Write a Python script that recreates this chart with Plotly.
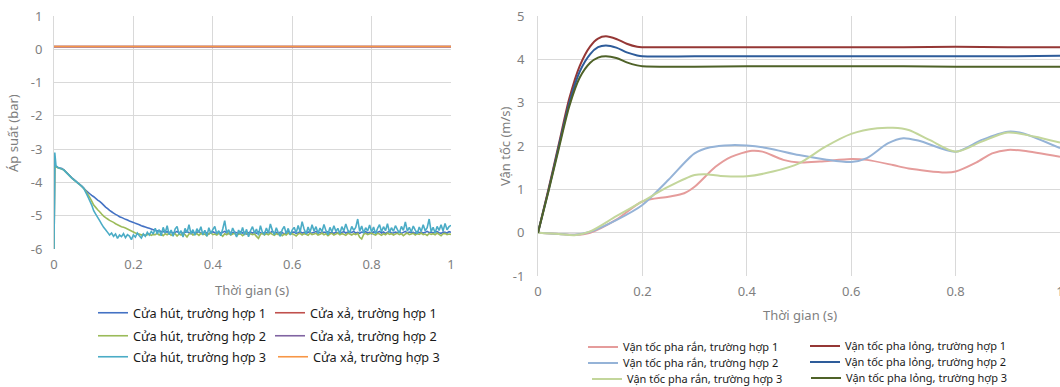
import plotly.graph_objects as go

# ---------------- Left chart data (pressure) ----------------
t_step = 0.005
t_hut = [0.0, 0.002] + [round(t_step * k, 3) for k in range(1, 201)]

hut_1 = [-6.0, -3.50,
    -3.52,-3.55,-3.57,-3.58,-3.62,-3.68,-3.74,-3.80,-3.86,-3.91,
    -3.96,-4.01,-4.06,-4.11,-4.17,-4.24,-4.29,-4.34,-4.39,-4.43,
    -4.48,-4.53,-4.57,-4.62,-4.68,-4.74,-4.79,-4.84,-4.88,-4.92,
    -4.96,-4.99,-5.03,-5.05,-5.08,-5.11,-5.13,-5.16,-5.18,-5.20,
    -5.23,-5.25,-5.27,-5.30,-5.32,-5.34,-5.36,-5.38,-5.40,-5.42,
    -5.44,-5.46,-5.45,-5.48,-5.47,-5.50,-5.48,-5.51,-5.49,-5.52,
    -5.50,-5.47,-5.52,-5.49,-5.53,-5.50,-5.48,-5.51,-5.54,-5.49,
    -5.52,-5.50,-5.47,-5.53,-5.51,-5.49,-5.52,-5.55,-5.50,-5.48,
    -5.51,-5.53,-5.49,-5.52,-5.50,-5.47,-5.51,-5.54,-5.50,-5.52,
    -5.49,-5.51,-5.53,-5.48,-5.52,-5.50,-5.55,-5.51,-5.49,-5.52,
    -5.50,-5.53,-5.48,-5.51,-5.54,-5.50,-5.52,-5.49,-5.51,-5.47,
    -5.52,-5.50,-5.53,-5.49,-5.51,-5.55,-5.50,-5.48,-5.52,-5.50,
    -5.49,-5.53,-5.51,-5.48,-5.52,-5.50,-5.54,-5.49,-5.51,-5.52,
    -5.50,-5.47,-5.52,-5.50,-5.53,-5.49,-5.51,-5.48,-5.52,-5.50,
    -5.53,-5.49,-5.51,-5.54,-5.50,-5.48,-5.52,-5.49,-5.51,-5.50,
    -5.47,-5.52,-5.50,-5.53,-5.49,-5.51,-5.48,-5.52,-5.50,-5.54,
    -5.49,-5.51,-5.50,-5.47,-5.52,-5.49,-5.53,-5.50,-5.48,-5.51,
    -5.52,-5.49,-5.51,-5.48,-5.53,-5.50,-5.47,-5.52,-5.49,-5.51,
    -5.50,-5.53,-5.48,-5.51,-5.49,-5.52,-5.50,-5.47,-5.51,-5.49,
    -5.52,-5.50,-5.48,-5.51,-5.53,-5.49,-5.50,-5.52,-5.48,-5.50]

hut_2 = [-6.0, -3.50,
    -3.53,-3.56,-3.58,-3.60,-3.63,-3.69,-3.75,-3.81,-3.87,-3.92,
    -3.97,-4.02,-4.07,-4.12,-4.18,-4.26,-4.35,-4.45,-4.56,-4.68,
    -4.75,-4.82,-4.88,-4.95,-5.01,-5.06,-5.10,-5.14,-5.17,-5.20,
    -5.24,-5.27,-5.30,-5.33,-5.35,-5.37,-5.40,-5.43,-5.46,-5.49,
    -5.52,-5.54,-5.55,-5.58,-5.56,-5.60,-5.57,-5.55,-5.59,-5.56,
    -5.57,-5.53,-5.58,-5.55,-5.60,-5.54,-5.57,-5.52,-5.59,-5.56,
    -5.54,-5.61,-5.55,-5.58,-5.53,-5.57,-5.64,-5.55,-5.52,-5.58,
    -5.56,-5.54,-5.59,-5.53,-5.57,-5.55,-5.60,-5.54,-5.51,-5.57,
    -5.55,-5.58,-5.53,-5.56,-5.62,-5.54,-5.57,-5.52,-5.58,-5.55,
    -5.53,-5.59,-5.56,-5.54,-5.60,-5.55,-5.52,-5.58,-5.54,-5.57,
    -5.55,-5.62,-5.68,-5.56,-5.53,-5.58,-5.54,-5.57,-5.52,-5.56,
    -5.59,-5.54,-5.57,-5.53,-5.60,-5.55,-5.58,-5.52,-5.56,-5.54,
    -5.57,-5.61,-5.55,-5.53,-5.58,-5.54,-5.56,-5.59,-5.52,-5.57,
    -5.55,-5.53,-5.58,-5.56,-5.52,-5.57,-5.54,-5.60,-5.55,-5.53,
    -5.58,-5.55,-5.52,-5.57,-5.54,-5.56,-5.59,-5.53,-5.55,-5.58,
    -5.54,-5.57,-5.53,-5.65,-5.70,-5.56,-5.53,-5.57,-5.54,-5.52,
    -5.56,-5.58,-5.53,-5.55,-5.59,-5.54,-5.57,-5.52,-5.56,-5.54,
    -5.58,-5.55,-5.53,-5.57,-5.54,-5.60,-5.55,-5.52,-5.57,-5.55,
    -5.53,-5.58,-5.54,-5.56,-5.52,-5.57,-5.55,-5.59,-5.53,-5.56,
    -5.54,-5.57,-5.52,-5.56,-5.60,-5.54,-5.53,-5.57,-5.55,-5.56]

hut_3 = [-6.0, -3.10,
    -3.50,-3.55,-3.57,-3.60,-3.63,-3.69,-3.75,-3.81,-3.87,-3.92,
    -3.97,-4.02,-4.07,-4.12,-4.18,-4.30,-4.42,-4.55,-4.68,-4.85,
    -4.95,-5.05,-5.15,-5.25,-5.35,-5.42,-5.50,-5.58,-5.52,-5.62,
    -5.55,-5.68,-5.58,-5.63,-5.54,-5.66,-5.57,-5.61,-5.72,-5.58,
    -5.64,-5.52,-5.60,-5.67,-5.55,-5.62,-5.50,-5.58,-5.47,-5.55,
    -5.38,-5.55,-5.42,-5.60,-5.35,-5.52,-5.30,-5.57,-5.43,-5.62,
    -5.40,-5.32,-5.56,-5.45,-5.64,-5.38,-5.51,-5.27,-5.54,-5.42,
    -5.59,-5.39,-5.50,-5.33,-5.57,-5.44,-5.62,-5.36,-5.53,-5.42,
    -5.32,-5.55,-5.45,-5.60,-5.40,-5.15,-5.52,-5.42,-5.58,-5.37,
    -5.50,-5.64,-5.43,-5.55,-5.35,-5.58,-5.41,-5.63,-5.45,-5.33,
    -5.52,-5.40,-5.59,-5.30,-5.50,-5.56,-5.37,-5.53,-5.25,-5.44,
    -5.57,-5.36,-5.51,-5.62,-5.42,-5.32,-5.54,-5.38,-5.58,-5.43,
    -5.35,-5.52,-5.29,-5.49,-5.18,-5.40,-5.55,-5.34,-5.50,-5.27,
    -5.46,-5.33,-5.53,-5.37,-5.48,-5.26,-5.45,-5.57,-5.35,-5.49,
    -5.30,-5.47,-5.38,-5.54,-5.33,-5.46,-5.25,-5.43,-5.51,-5.32,
    -5.44,-5.35,-5.10,-5.47,-5.31,-5.52,-5.36,-5.46,-5.28,-5.49,
    -5.34,-5.54,-5.38,-5.27,-5.48,-5.33,-5.45,-5.24,-5.50,-5.36,
    -5.47,-5.30,-5.42,-5.52,-5.32,-5.44,-5.19,-5.46,-5.35,-5.49,
    -5.31,-5.43,-5.54,-5.34,-5.47,-5.27,-5.45,-5.36,-5.10,-5.48,
    -5.35,-5.52,-5.32,-5.44,-5.27,-5.46,-5.23,-5.42,-5.33,-5.29]

t_xa = [0.0, 0.25, 0.5, 0.75, 1.0]
xa_1 = [0.08, 0.08, 0.08, 0.08, 0.08]
xa_2 = [0.08, 0.08, 0.08, 0.08, 0.08]
xa_3 = [0.085, 0.085, 0.085, 0.085, 0.085]

names_left = ["Cửa hút, trường hợp 1", "Cửa hút, trường hợp 2", "Cửa hút, trường hợp 3",
              "Cửa xả, trường hợp 1", "Cửa xả, trường hợp 2", "Cửa xả, trường hợp 3"]

# ---------------- Right chart data (velocity) ----------------
t_long = [0, 0.02, 0.04, 0.06, 0.08, 0.1, 0.115, 0.13, 0.15, 0.17, 0.19, 0.2, 0.3, 0.4, 0.5, 0.6, 0.7, 0.8, 0.9, 1.0]
long_1 = [0, 1.00, 2.05, 3.10, 3.85, 4.30, 4.48, 4.53, 4.47, 4.36, 4.29, 4.28, 4.28, 4.28, 4.28, 4.28, 4.28, 4.29, 4.28, 4.28]
long_2 = [0, 0.97, 2.00, 3.00, 3.72, 4.12, 4.28, 4.32, 4.27, 4.16, 4.09, 4.07, 4.07, 4.07, 4.07, 4.07, 4.07, 4.07, 4.07, 4.08]
long_3 = [0, 0.95, 1.95, 2.92, 3.58, 3.92, 4.04, 4.07, 4.03, 3.93, 3.86, 3.84, 3.83, 3.84, 3.84, 3.84, 3.84, 3.83, 3.83, 3.83]

t_ran_1 = [0, 0.04, 0.07, 0.1, 0.15, 0.2, 0.25, 0.28, 0.3, 0.34, 0.37, 0.41, 0.43, 0.47, 0.5, 0.54, 0.6, 0.63, 0.68, 0.71, 0.78, 0.8, 0.84, 0.87, 0.9, 0.93, 1.0]
ran_1 = [0, -0.03, -0.05, 0.0, 0.30, 0.72, 0.83, 0.91, 1.06, 1.52, 1.75, 1.89, 1.87, 1.68, 1.62, 1.64, 1.70, 1.68, 1.56, 1.48, 1.39, 1.41, 1.62, 1.83, 1.91, 1.89, 1.75]
t_ran_2 = [0, 0.04, 0.07, 0.1, 0.15, 0.2, 0.25, 0.3, 0.33, 0.37, 0.4, 0.44, 0.5, 0.55, 0.6, 0.63, 0.67, 0.7, 0.73, 0.8, 0.85, 0.9, 0.93, 1.0]
ran_2 = [0, -0.03, -0.05, 0.02, 0.29, 0.64, 1.22, 1.83, 1.97, 2.02, 2.01, 1.95, 1.79, 1.69, 1.63, 1.72, 2.06, 2.18, 2.12, 1.87, 2.14, 2.33, 2.29, 1.95]
t_ran_3 = [0, 0.04, 0.07, 0.1, 0.15, 0.2, 0.25, 0.3, 0.32, 0.35, 0.4, 0.45, 0.5, 0.55, 0.6, 0.65, 0.68, 0.71, 0.75, 0.8, 0.85, 0.9, 0.95, 1.0]
ran_3 = [0, -0.03, -0.06, 0.03, 0.38, 0.72, 1.06, 1.33, 1.35, 1.31, 1.30, 1.41, 1.60, 1.98, 2.28, 2.41, 2.42, 2.37, 2.14, 1.87, 2.10, 2.31, 2.22, 2.08]

names_right = ["Vận tốc pha rắn, trường hợp 1", "Vận tốc pha rắn, trường hợp 2", "Vận tốc pha rắn, trường hợp 3",
               "Vận tốc pha lỏng, trường hợp 1", "Vận tốc pha lỏng, trường hợp 2", "Vận tốc pha lỏng, trường hợp 3"]

x_ticks = [0, 0.2, 0.4, 0.6, 0.8, 1]
x_ticktext = ["0", "0.2", "0.4", "0.6", "0.8", "1"]
yl_ticks = [1, 0, -1, -2, -3, -4, -5, -6]
yl_ticktext = ["1", "0", "-1", "-2", "-3", "-4", "-5", "-6"]
yr_ticks = [5, 4, 3, 2, 1, 0, -1]
yr_ticktext = ["5", "4", "3", "2", "1", "0", "-1"]

# ---------------- Styling ----------------
W, H = 1060, 387
FONT = "Noto Sans"
GRID = "#D9D9D9"
TICKC = "#7F7F7F"

def px(xp):
    return xp / W

def py(yp):
    return 1 - yp / H

fig = go.Figure()

left_colors = ["#4472C4", "#9BBB59", "#4BACC6", "#C0504D", "#8064A2", "#F79646"]
right_colors = ["#E59C9B", "#95B3D7", "#C3D69B", "#953735", "#2E5C9A", "#4F6228"]

# legend placements in page px (text-start x, centre y)
left_leg_pos = [(133, 313), (133, 336), (133, 357), (310, 313), (310, 336), (313, 357)]
right_leg_pos = [(623, 347), (623, 363), (627, 379), (845, 346), (845, 362), (846, 378)]

left_series = [(t_hut, hut_1), (t_hut, hut_2), (t_hut, hut_3), (t_xa, xa_1), (t_xa, xa_2), (t_xa, xa_3)]
for i, (tx, ty) in enumerate(left_series):
    lid = "legend" if i == 0 else f"legend{i+1}"
    fig.add_trace(go.Scatter(x=tx, y=ty, mode="lines", name=names_left[i],
                             line=dict(color=left_colors[i], width=1.6, simplify=False),
                             xaxis="x", yaxis="y", legend=lid))

right_series = [(t_ran_1, ran_1), (t_ran_2, ran_2), (t_ran_3, ran_3), (t_long, long_1), (t_long, long_2), (t_long, long_3)]
for i, (tx, ty) in enumerate(right_series):
    lid = f"legend{i+7}"
    fig.add_trace(go.Scatter(x=tx, y=ty, mode="lines", name=names_right[i],
                             line=dict(color=right_colors[i], width=2, shape="spline", smoothing=0.8),
                             xaxis="x2", yaxis="y2", legend=lid))

legends = {}
for i, (xt, yc) in enumerate(left_leg_pos):
    lid = "legend" if i == 0 else f"legend{i+1}"
    legends[lid] = dict(x=px(xt - 40), y=py(yc), xanchor="left", yanchor="middle",
                        font=dict(family=FONT, size=12.7, color="#1A1A1A"),
                        bgcolor="rgba(0,0,0,0)", itemwidth=30)
for i, (xt, yc) in enumerate(right_leg_pos):
    lid = f"legend{i+7}"
    legends[lid] = dict(x=px(xt - 40), y=py(yc), xanchor="left", yanchor="middle",
                        font=dict(family=FONT, size=11, color="#1A1A1A"),
                        bgcolor="rgba(0,0,0,0)", itemwidth=30)

axis_common = dict(showgrid=True, gridcolor=GRID, gridwidth=1, zeroline=False,
                   ticks="", tickfont=dict(family=FONT, size=13, color=TICKC),
                   automargin=False, ticklabeloverflow="allow")

fig.update_layout(
    width=W, height=H, autosize=False,
    margin=dict(l=0, r=0, t=0, b=0, autoexpand=False),
    paper_bgcolor="white", plot_bgcolor="white",
    showlegend=True,
    xaxis=dict(domain=[px(54), px(451)], range=[0, 1], tickvals=x_ticks, ticktext=x_ticktext,
               anchor="y", ticklabelstandoff=6, showline=False, **axis_common),
    yaxis=dict(domain=[py(249), py(16)], range=[-6, 1], tickvals=yl_ticks, ticktext=yl_ticktext,
               anchor="x", ticklabelstandoff=8, showline=True, linecolor=GRID, linewidth=1, **axis_common),
    xaxis2=dict(domain=[px(538), 1.0], range=[0, 1], tickvals=x_ticks, ticktext=x_ticktext,
                anchor="y2", ticklabelstandoff=6, showline=False, **axis_common),
    yaxis2=dict(domain=[py(276), py(16)], range=[-1, 5], tickvals=yr_ticks, ticktext=yr_ticktext,
                anchor="x2", ticklabelstandoff=10, showline=True, linecolor=GRID, linewidth=1, **axis_common),
    annotations=[
        dict(text="Thời gian (s)", x=px(252), y=py(290), xref="paper", yref="paper",
             showarrow=False, xanchor="center", yanchor="middle",
             font=dict(family=FONT, size=13, color=TICKC)),
        dict(text="Áp suất (bar)", x=px(13), y=py(133), xref="paper", yref="paper",
             showarrow=False, xanchor="center", yanchor="middle", textangle=-90,
             font=dict(family=FONT, size=13, color=TICKC)),
        dict(text="Thời gian (s)", x=px(800), y=py(315), xref="paper", yref="paper",
             showarrow=False, xanchor="center", yanchor="middle",
             font=dict(family=FONT, size=13, color=TICKC)),
        dict(text="Vận tốc (m/s)", x=px(505), y=py(146), xref="paper", yref="paper",
             showarrow=False, xanchor="center", yanchor="middle", textangle=-90,
             font=dict(family=FONT, size=13, color=TICKC)),
    ],
    **legends,
)

fig.write_html("out.html", config={"displayModeBar": False},
               post_script="document.body.style.margin='0';document.body.style.overflow='hidden';")
